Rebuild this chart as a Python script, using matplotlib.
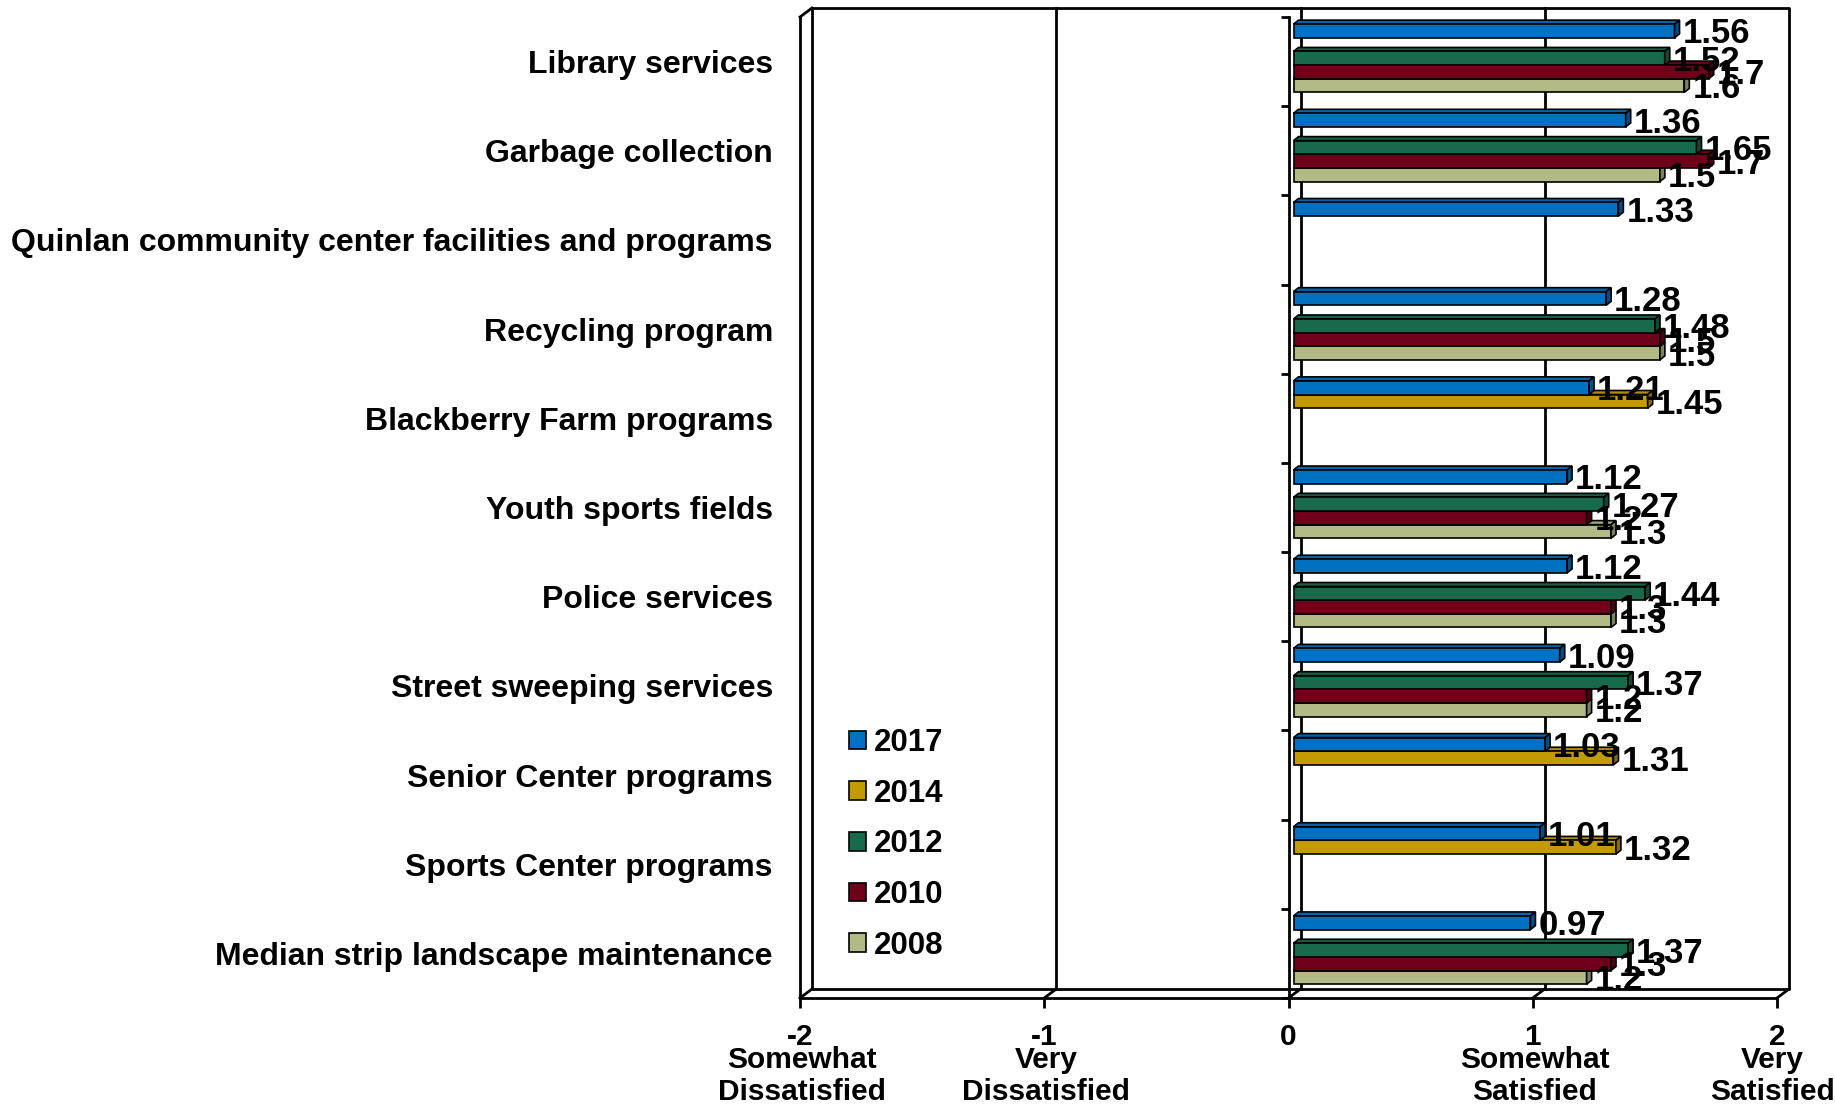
import matplotlib
matplotlib.use("Agg")
import matplotlib.pyplot as plt
import numpy as np
from matplotlib.patches import Polygon, Patch
from matplotlib.colors import to_rgb
from matplotlib.transforms import offset_copy

plt.rcParams['font.family'] = ['Liberation Sans', 'DejaVu Sans']
plt.rcParams['font.weight'] = 'bold'

# ---------------- data ----------------
categories = ["Library services", "Garbage collection",
              "Quinlan community center facilities and programs",
              "Recycling program", "Blackberry Farm programs",
              "Youth sports fields", "Police services",
              "Street sweeping services", "Senior Center programs",
              "Sports Center programs", "Median strip landscape maintenance"]
years = ["2017", "2014", "2012", "2010", "2008"]
v2017 = [1.56, 1.36, 1.33, 1.28, 1.21, 1.12, 1.12, 1.09, 1.03, 1.01, 0.97]
v2014 = [None, None, None, None, 1.45, None, None, None, 1.31, 1.32, None]
v2012 = [1.52, 1.65, None, 1.48, None, 1.27, 1.44, 1.37, None, None, 1.37]
v2010 = [1.7, 1.7, None, 1.5, None, 1.2, 1.3, 1.2, None, None, 1.3]
v2008 = [1.6, 1.5, None, 1.5, None, 1.3, 1.3, 1.2, None, None, 1.2]
xticks = [-2, -1, 0, 1, 2]
xtick_desc = ["Somewhat\nDissatisfied", "Very\nDissatisfied", "",
              "Somewhat\nSatisfied", "Very\nSatisfied"]

series = [v2017, v2014, v2012, v2010, v2008]
colors = ['#0070C0', '#C39B00', '#176A4C', '#6E0019', '#B2BB86']

# ---------------- layout ----------------
W, H = 1835, 1107
fig = plt.figure(figsize=(W / 100, H / 100), dpi=100)
x0, x1 = 800, 1777       # front plane, pixels
y0, y1 = 17, 998
ax = fig.add_axes([x0 / W, 1 - y1 / H, (x1 - x0) / W, (y1 - y0) / H])
n = len(categories)
ax.set_xlim(-2, 2)
ax.set_ylim(n, 0)


def delta(px, py):
    o = ax.transData.transform((0, 0))
    p = ax.transData.inverted().transform(o + np.array([px, py]))
    return p[0], p[1]


K = dict(color='black', lw=2.0, solid_capstyle='projecting', clip_on=False, zorder=1)
dx, dy = delta(12, 9)
# back wall
ax.plot([-2 + dx, 2 + dx, 2 + dx, -2 + dx, -2 + dx],
        [dy, dy, n + dy, n + dy, dy], **K)
for t in [-1, 0, 1]:
    ax.plot([t + dx, t + dx], [dy, n + dy], **K)
for t in xticks:
    ax.plot([t, t + dx], [n, n + dy], **K)
ax.plot([-2, -2 + dx], [0, dy], **K)

for s in ['top', 'right']:
    ax.spines[s].set_visible(False)
for s in ['left', 'bottom']:
    ax.spines[s].set_linewidth(2)

# category axis at x = 0
sec = ax.secondary_yaxis(0.5)
sec.set_alignment('left')
sec.set_yticks(np.arange(n + 1))
sec.tick_params(axis='y', length=6, width=2, labelleft=False, labelright=False)
sec.spines['left'].set_linewidth(2)

ax.set_yticks(np.arange(n) + 0.5, categories)
ax.tick_params(axis='y', length=0, pad=19.5, labelsize=23)
ax.set_xticks(xticks, [str(t) for t in xticks])
ax.tick_params(axis='x', length=7.2, width=2, pad=11, labelsize=21.5)

for t, desc in zip(xticks, xtick_desc):
    shift = -5 if t == xticks[-1] else 2
    for j, line in enumerate(desc.split("\n") if desc else []):
        ax.annotate(line, xy=(t, 0), xycoords=('data', 'axes fraction'),
                    xytext=(shift, -62 - 32 * j), textcoords='offset pixels',
                    ha='center', va='center', fontsize=21.5, fontweight='bold')

# ---------------- 3D bars ----------------
slot_top, slot_h = 0.08, 0.153
tx, ty = delta(5, 4)
btrans = offset_copy(ax.transData, fig=fig, x=5, y=0, units='dots')


def shade(c, f):
    r, g, b = to_rgb(c)
    return (r * f, g * f, b * f)


z = 2
for i in range(n):
    for k in reversed(range(len(series))):
        v = series[k][i]
        if v is None:
            continue
        c = colors[k]
        yt = i + slot_top + k * slot_h
        yb = yt + slot_h
        top = Polygon([(0, yt), (v, yt), (v + tx, yt + ty), (tx, yt + ty)],
                      closed=True, fc=shade(c, 0.9), ec='black', lw=1.2,
                      transform=btrans, zorder=z)
        ax.add_patch(top)
        ax.barh(yt + slot_h / 2, v, height=slot_h, left=0, color=c,
                edgecolor='black', lw=1.2, transform=btrans, zorder=z + 0.1)
        side = Polygon([(v, yt), (v + tx, yt + ty), (v + tx, yb + ty), (v, yb)],
                       closed=True, fc=shade(c, 0.7), ec='black', lw=1.2,
                       transform=btrans, zorder=z + 0.2)
        ax.add_patch(side)
        z += 1

for i in range(n):
    for k in range(len(series)):
        v = series[k][i]
        if v is None:
            continue
        yc = i + slot_top + (k + 0.5) * slot_h
        ax.annotate(f"{v:g}", xy=(v, yc), xytext=(13, -3),
                    textcoords='offset pixels', ha='left', va='center',
                    fontsize=25, fontweight='bold', zorder=500)

handles = [Patch(fc=c, ec='black', lw=1.2) for c in colors]
ax.legend(handles, years, loc='upper left', bbox_to_anchor=(849 / W, 1 - 728 / H),
          bbox_transform=fig.transFigure, frameon=False, fontsize=22.5,
          handlelength=0.54, handleheight=0.54, handletextpad=0.25,
          labelspacing=0.66, borderpad=0, borderaxespad=0)

fig.savefig("out.png", dpi=100)
